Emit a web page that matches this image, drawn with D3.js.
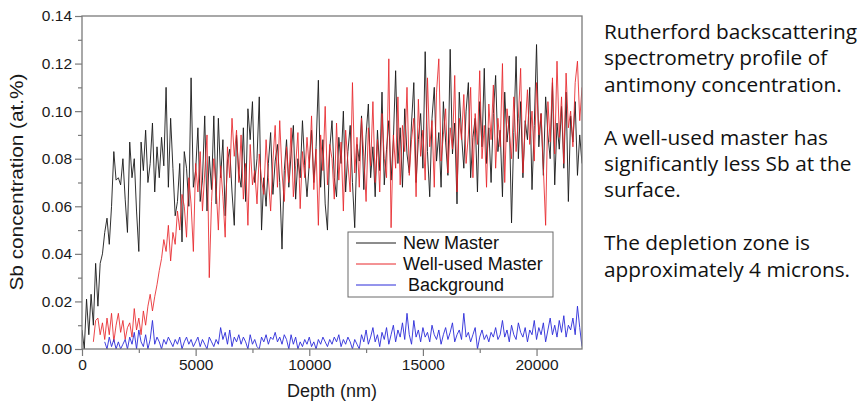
<!DOCTYPE html>
<html>
<head>
<meta charset="utf-8">
<script src="https://cdn.jsdelivr.net/npm/d3@7"></script>
<style>
  body { margin: 0; background: #fff; }
  svg { display: block; }
</style>
</head>
<body>
<svg id="chart" width="860" height="401"></svg>
<script>
// depth sampling (nm)
var depthStep = 100;
var newMasterStart = 0;
var wellUsedStart = 500;
var backgroundStart = 1000;

var seriesNames = ["New Master", "Well-used Master", " Background"];

var newMaster = [
  0.008, 0.000, 0.021, 0.006, 0.023, 0.010, 0.036, 0.018, 0.036, 0.040,
  0.049, 0.055, 0.044, 0.060, 0.083, 0.071, 0.072, 0.069, 0.080, 0.063,
  0.049, 0.087, 0.072, 0.080, 0.058, 0.041, 0.087, 0.075, 0.092, 0.070,
  0.078, 0.095, 0.066, 0.085, 0.072, 0.089, 0.077, 0.110, 0.068, 0.097,
  0.076, 0.056, 0.062, 0.078, 0.045, 0.083, 0.076, 0.060, 0.114, 0.068,
  0.075, 0.093, 0.062, 0.071, 0.098, 0.058, 0.081, 0.067, 0.098, 0.061,
  0.097, 0.072, 0.088, 0.056, 0.079, 0.084, 0.066, 0.052, 0.090, 0.074,
  0.068, 0.093, 0.062, 0.101, 0.088, 0.104, 0.070, 0.080, 0.106, 0.050,
  0.072, 0.060, 0.078, 0.091, 0.065, 0.079, 0.086, 0.070, 0.042, 0.075,
  0.088, 0.068, 0.082, 0.094, 0.063, 0.080, 0.072, 0.096, 0.077, 0.064,
  0.078, 0.092, 0.070, 0.085, 0.113, 0.068, 0.088, 0.061, 0.050, 0.084,
  0.096, 0.072, 0.064, 0.089, 0.078, 0.100, 0.066, 0.083, 0.094, 0.070,
  0.051, 0.086, 0.079, 0.098, 0.067, 0.090, 0.103, 0.072, 0.085, 0.064,
  0.092, 0.075, 0.108, 0.069, 0.084, 0.096, 0.071, 0.088, 0.117, 0.078,
  0.093, 0.068, 0.101, 0.082, 0.074, 0.095, 0.112, 0.070, 0.088, 0.099,
  0.076, 0.125, 0.083, 0.064, 0.097, 0.110, 0.079, 0.091, 0.068, 0.104,
  0.087, 0.073, 0.126, 0.082, 0.095, 0.061, 0.108, 0.090, 0.076, 0.100,
  0.112, 0.072, 0.089, 0.097, 0.066, 0.104, 0.085, 0.118, 0.078, 0.093,
  0.070, 0.099, 0.115, 0.083, 0.092, 0.064, 0.108, 0.087, 0.098, 0.053,
  0.091, 0.123, 0.080, 0.104, 0.072, 0.096, 0.088, 0.110, 0.067, 0.094,
  0.128, 0.085, 0.099, 0.073, 0.106, 0.090, 0.080, 0.112, 0.069, 0.095,
  0.084, 0.102, 0.076, 0.108, 0.062, 0.098, 0.087, 0.104, 0.073, 0.090,
  0.078
];

var wellUsedMaster = [
  0.003, 0.012, 0.013, 0.006, 0.011,
  0.004, 0.013, 0.006, 0.015, 0.003, 0.010, 0.015, 0.007, 0.012, 0.004,
  0.009, 0.011, 0.005, 0.017, 0.008, 0.013, 0.006, 0.016, 0.010, 0.018,
  0.023, 0.016, 0.022, 0.027, 0.033, 0.038, 0.046, 0.041, 0.052, 0.037,
  0.049, 0.044, 0.058, 0.050, 0.065, 0.060, 0.047, 0.072, 0.061, 0.041,
  0.078, 0.066, 0.083, 0.058, 0.074, 0.090, 0.030, 0.062, 0.080, 0.068,
  0.050, 0.077, 0.064, 0.047, 0.085, 0.072, 0.097, 0.081, 0.092, 0.070,
  0.090, 0.063, 0.078, 0.052, 0.086, 0.069, 0.075, 0.061, 0.082, 0.071,
  0.065, 0.088, 0.072, 0.058, 0.079, 0.094, 0.068, 0.096, 0.074, 0.062,
  0.085, 0.070, 0.093, 0.064, 0.077, 0.091, 0.059, 0.083, 0.072, 0.089,
  0.076, 0.098, 0.067, 0.084, 0.052, 0.090, 0.075, 0.102, 0.069, 0.086,
  0.080, 0.063, 0.095, 0.071, 0.087, 0.058, 0.092, 0.078, 0.066, 0.112,
  0.074, 0.089, 0.068, 0.097, 0.081, 0.062, 0.093, 0.077, 0.104, 0.070,
  0.088, 0.066, 0.099, 0.080, 0.072, 0.122, 0.051, 0.090, 0.076, 0.106,
  0.069, 0.094, 0.083, 0.110, 0.073, 0.088, 0.097, 0.064, 0.105, 0.081,
  0.092, 0.071, 0.114, 0.085, 0.096, 0.068, 0.108, 0.122, 0.079, 0.090,
  0.101, 0.074, 0.093, 0.084, 0.115, 0.066, 0.097, 0.088, 0.107, 0.078,
  0.090, 0.110, 0.072, 0.099, 0.086, 0.117, 0.080, 0.094, 0.068, 0.103,
  0.088, 0.111, 0.076, 0.097, 0.085, 0.120, 0.070, 0.101, 0.091, 0.080,
  0.106, 0.083, 0.097, 0.118, 0.074, 0.093, 0.109, 0.086, 0.100, 0.079,
  0.112, 0.090, 0.099, 0.076, 0.052, 0.104, 0.087, 0.114, 0.082, 0.121,
  0.089, 0.106, 0.078, 0.116, 0.093, 0.100, 0.085, 0.112, 0.121, 0.096,
  0.110
];

var background = [
  0.003, 0.000, 0.005, 0.001, 0.004, 0.000, 0.003, 0.000, 0.002, 0.004,
  0.000, 0.005, 0.002, 0.007, 0.000, 0.008, 0.003, 0.001, 0.006, 0.000,
  0.004, 0.012, 0.002, 0.005, 0.003, 0.000, 0.004, 0.002, 0.005, 0.003,
  0.001, 0.004, 0.002, 0.005, 0.000, 0.003, 0.005, 0.002, 0.004, 0.001,
  0.003, 0.005, 0.001, 0.004, 0.002, 0.000, 0.005, 0.003, 0.001, 0.004,
  0.002, 0.009, 0.004, 0.007, 0.002, 0.008, 0.001, 0.005, 0.003, 0.006,
  0.002, 0.005, 0.003, 0.000, 0.006, 0.002, 0.004, 0.001, 0.000, 0.005,
  0.003, 0.006, 0.002, 0.005, 0.004, 0.007, 0.003, 0.005, 0.002, 0.006,
  0.004, 0.000, 0.006, 0.002, 0.005, 0.000, 0.003, 0.001, 0.004, 0.002,
  0.005, 0.001, 0.003, 0.000, 0.004, 0.002, 0.005, 0.003, 0.001, 0.004,
  0.002, 0.005, 0.003, 0.006, 0.001, 0.004, 0.002, 0.005, 0.003, 0.000,
  0.004, 0.002, 0.000, 0.006, 0.003, 0.008, 0.002, 0.005, 0.009, 0.003,
  0.006, 0.001, 0.007, 0.004, 0.009, 0.002, 0.006, 0.010, 0.003, 0.008,
  0.005, 0.011, 0.004, 0.015, 0.006, 0.002, 0.012, 0.005, 0.008, 0.003,
  0.009, 0.005, 0.007, 0.003, 0.010, 0.006, 0.004, 0.008, 0.002, 0.006,
  0.009, 0.004, 0.007, 0.011, 0.003, 0.006, 0.008, 0.004, 0.015, 0.005,
  0.007, 0.003, 0.006, 0.009, 0.000, 0.005, 0.008, 0.004, 0.006, 0.003,
  0.007, 0.005, 0.009, 0.004, 0.006, 0.012, 0.005, 0.008, 0.003, 0.010,
  0.006, 0.004, 0.011, 0.007, 0.005, 0.009, 0.003, 0.008, 0.006, 0.012,
  0.004, 0.009, 0.006, 0.011, 0.003, 0.008, 0.013, 0.006, 0.010, 0.005,
  0.012, 0.007, 0.014, 0.005, 0.010, 0.008, 0.013, 0.006, 0.018, 0.009,
  0.001
];

var xTicks = [0, 5000, 10000, 15000, 20000];
var yTicks = [0, 0.02, 0.04, 0.06, 0.08, 0.10, 0.12, 0.14];

var noteLines = [
  "Rutherford backscattering",
  "spectrometry profile of",
  "antimony concentration.",
  "",
  "A well-used master has",
  "significantly less Sb at the",
  "surface.",
  "",
  "The depletion zone is",
  "approximately 4 microns."
];

var svg = d3.select("#chart");
var plotLeft = 82, plotRight = 582, plotTop = 16, plotBottom = 349;
var axisFont = "'Liberation Sans', Arial, sans-serif";

var x = d3.scaleLinear().domain([0, 22000]).range([plotLeft, plotRight]);
var y = d3.scaleLinear().domain([0, 0.14]).range([plotBottom, plotTop]);

function toPoints(values, start) {
  return values.map(function(v, i) { return { depth: start + i * depthStep, value: v }; });
}

var series = [
  { name: seriesNames[0], color: "#1a1a1a", points: toPoints(newMaster, newMasterStart) },
  { name: seriesNames[1], color: "#e8262a", points: toPoints(wellUsedMaster, wellUsedStart) },
  { name: seriesNames[2], color: "#2b2bd9", points: toPoints(background, backgroundStart) }
];

svg.append("clipPath").attr("id", "plotClip")
  .append("rect")
  .attr("x", plotLeft).attr("y", plotTop)
  .attr("width", plotRight - plotLeft).attr("height", plotBottom - plotTop);

var line = d3.line()
  .x(function(d) { return x(d.depth); })
  .y(function(d) { return y(d.value); });

svg.append("g")
  .attr("clip-path", "url(#plotClip)")
  .selectAll("path")
  .data(series)
  .enter().append("path")
  .attr("d", function(d) { return line(d.points); })
  .attr("fill", "none")
  .attr("stroke", function(d) { return d.color; })
  .attr("stroke-width", 1)
  .attr("stroke-linejoin", "round")
  .attr("opacity", function(d, i) { return i === 1 ? 0.85 : 0.9; });

// frame
svg.append("rect")
  .attr("x", plotLeft).attr("y", plotTop)
  .attr("width", plotRight - plotLeft).attr("height", plotBottom - plotTop)
  .attr("fill", "none")
  .attr("stroke", "#7a7a7a")
  .attr("stroke-width", 1.3);

// axes
var xAxis = d3.axisBottom(x).tickValues(xTicks).tickSize(7).tickPadding(3)
  .tickFormat(d3.format("d"));
var xMinor = d3.axisBottom(x).tickValues(d3.range(2500, 22000, 5000)).tickSize(4).tickFormat("");
var yAxis = d3.axisLeft(y).tickValues(yTicks).tickSize(7).tickPadding(3)
  .tickFormat(d3.format(".2f"));
var yMinor = d3.axisLeft(y).tickValues(d3.range(0.01, 0.14, 0.02)).tickSize(4).tickFormat("");

function styleAxis(g) {
  g.select(".domain").remove();
  g.selectAll("line").attr("stroke", "#7a7a7a").attr("stroke-width", 1.2);
  g.selectAll("text")
    .attr("fill", "#1a1a1a")
    .style("font-family", axisFont)
    .style("font-size", "15.5px");
}

svg.append("g").attr("transform", "translate(0," + plotBottom + ")").call(xAxis).call(styleAxis);
svg.append("g").attr("transform", "translate(0," + plotBottom + ")").call(xMinor).call(styleAxis);
svg.append("g").attr("transform", "translate(" + plotLeft + ",0)").call(yAxis).call(styleAxis);
svg.append("g").attr("transform", "translate(" + plotLeft + ",0)").call(yMinor).call(styleAxis);

svg.append("text")
  .attr("x", 332).attr("y", 397)
  .attr("text-anchor", "middle")
  .attr("fill", "#1a1a1a")
  .style("font-family", axisFont)
  .style("font-size", "18px")
  .text("Depth (nm)");

svg.append("text")
  .attr("transform", "translate(23,182) rotate(-90)")
  .attr("text-anchor", "middle")
  .attr("fill", "#1a1a1a")
  .attr("textLength", 217)
  .attr("lengthAdjust", "spacingAndGlyphs")
  .style("font-family", axisFont)
  .style("font-size", "18.5px")
  .text("Sb concentration (at.%)");

// legend
var legend = svg.append("g").attr("transform", "translate(348,232)");
legend.append("rect")
  .attr("width", 205).attr("height", 65)
  .attr("fill", "#fff")
  .attr("stroke", "#6a6a6a")
  .attr("stroke-width", 1);

var item = legend.selectAll("g.item")
  .data(series)
  .enter().append("g")
  .attr("class", "item")
  .attr("transform", function(d, i) { return "translate(0," + (11 + i * 21) + ")"; });

item.append("line")
  .attr("x1", 8).attr("x2", 48)
  .attr("stroke", function(d) { return d.color; })
  .attr("stroke-width", 1);

item.append("text")
  .attr("x", 55)
  .attr("dy", "0.36em")
  .attr("fill", "#111")
  .style("font-family", axisFont)
  .style("font-size", "18px")
  .style("white-space", "pre")
  .text(function(d) { return d.name; });

// side note
svg.append("g").selectAll("text")
  .data(noteLines)
  .enter().append("text")
  .attr("x", 604)
  .attr("y", function(d, i) { return 39 + i * 26.4; })
  .attr("fill", "#111")
  .style("font-family", "'Open Sans', sans-serif")
  .style("font-size", "20.8px")
  .text(function(d) { return d; });
</script>
</body>
</html>
